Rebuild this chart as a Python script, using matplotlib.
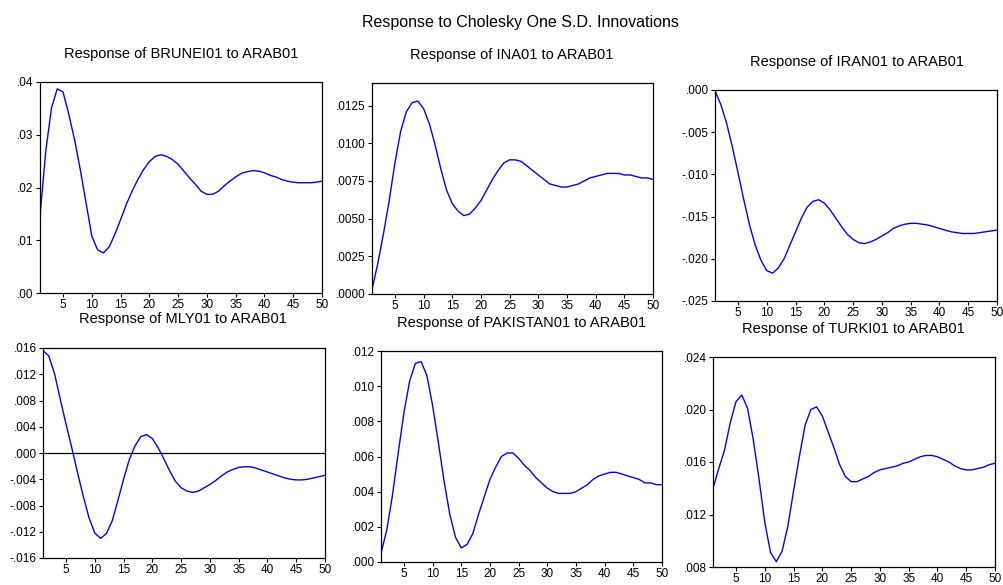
import matplotlib
matplotlib.use("Agg")
import matplotlib.pyplot as plt
from matplotlib.ticker import FuncFormatter, MultipleLocator

plt.rcParams['font.family'] = ['Liberation Sans', 'DejaVu Sans']

periods = list(range(1, 51))

brunei = [.0146, .0269, .0351, .0387, .0381, .0339, .0291, .0234, .0171, .0108,
          .0082, .0076, .0087, .0111, .0139, .0168, .0193, .0215, .0234, .0249,
          .0259, .0262, .0259, .0253, .0244, .0231, .0218, .0206, .0193, .0187,
          .0187, .0193, .0203, .0212, .0220, .0227, .0230, .0232, .0231, .0228,
          .0223, .0220, .0215, .0212, .0210, .0209, .0209, .0209, .0210, .0212]

ina = [.0003, .0020, .0040, .0062, .0087, .0108, .0121, .0127, .0128, .0123,
       .0113, .0099, .0083, .0069, .0060, .0055, .0052, .0053, .0057, .0062,
       .0069, .0076, .0082, .0087, .0089, .0089, .0088, .0085, .0082, .0079,
       .0076, .0073, .0072, .0071, .0071, .0072, .0073, .0075, .0077, .0078,
       .0079, .0080, .0080, .0080, .0079, .0079, .0078, .0077, .0077, .0076]

iran = [-.0001, -.0017, -.0039, -.0067, -.0098, -.0130, -.0160, -.0184, -.0202, -.0214,
        -.0217, -.0211, -.0200, -.0184, -.0168, -.0152, -.0139, -.0132, -.0130, -.0134,
        -.0142, -.0152, -.0162, -.0171, -.0177, -.0181, -.0182, -.0180, -.0177, -.0173,
        -.0169, -.0164, -.0161, -.0159, -.0158, -.0158, -.0159, -.0160, -.0162, -.0164,
        -.0166, -.0168, -.0169, -.0170, -.0170, -.0170, -.0169, -.0168, -.0167, -.0166]

mly = [.0156, .0148, .0121, .0082, .0044, .0008, -.0030, -.0066, -.0099, -.0122,
       -.0130, -.0123, -.0104, -.0073, -.0040, -.0010, .0011, .0025, .0028, .0022,
       .0008, -.0009, -.0027, -.0043, -.0053, -.0058, -.0060, -.0058, -.0053, -.0048,
       -.0042, -.0035, -.0029, -.0025, -.0022, -.0021, -.0021, -.0023, -.0026, -.0029,
       -.0032, -.0035, -.0038, -.0040, -.0041, -.0041, -.0040, -.0038, -.0036, -.0034]

pakistan = [.0005, .0018, .0038, .0062, .0085, .0103, .0113, .0114, .0106, .0089,
            .0068, .0046, .0027, .0014, .0008, .0010, .0016, .0027, .0037, .0047,
            .0054, .0060, .0062, .0062, .0059, .0055, .0052, .0048, .0045, .0042,
            .0040, .0039, .0039, .0039, .0040, .0042, .0044, .0047, .0049, .0050,
            .0051, .0051, .0050, .0049, .0048, .0047, .0045, .0045, .0044, .0044]

turki = [.0140, .0155, .0169, .0190, .0206, .0211, .0201, .0177, .0147, .0114,
         .0091, .0084, .0092, .0111, .0138, .0164, .0188, .0200, .0202, .0195,
         .0183, .0171, .0158, .0149, .0145, .0145, .0147, .0149, .0152, .0154,
         .0155, .0156, .0157, .0159, .0160, .0162, .0164, .0165, .0165, .0164,
         .0162, .0160, .0157, .0155, .0154, .0154, .0155, .0156, .0158, .0159]

titles = ['Response of BRUNEI01 to ARAB01', 'Response of INA01 to ARAB01',
          'Response of IRAN01 to ARAB01', 'Response of MLY01 to ARAB01',
          'Response of PAKISTAN01 to ARAB01', 'Response of TURKI01 to ARAB01']
series = [brunei, ina, iran, mly, pakistan, turki]
ylims = [(0, .04), (0, .014), (-.025, 0), (-.016, .016), (0, .012), (.008, .024)]
ysteps = [.01, .0025, .005, .004, .002, .004]
ydigits = [2, 4, 3, 3, 3, 3]

W, H = 1004, 585
# panel boxes in pixels: left, right, top, bottom
boxes = [(40, 322, 82, 293), (372, 653, 83, 294), (715, 997, 90, 301),
         (43, 325, 348, 558), (381, 662, 351, 562), (713, 995, 357, 567)]
title_pos = [(181, 54), (512, 55), (857, 62), (183, 319), (522, 323), (853, 329)]

fig = plt.figure(figsize=(W / 100, H / 100), dpi=100)
fig.text(520 / W, 1 - 22 / H, 'Response to Cholesky One S.D. Innovations',
         ha='center', va='center', fontsize=11.5)


def make_fmt(nd):
    def f(v, pos):
        s = f"{v:.{nd}f}"
        if abs(v) < 10 ** (-nd - 2):
            s = f"{0:.{nd}f}"
        return s.replace('0.', '.', 1)
    return FuncFormatter(f)


for i in range(6):
    l, r, t, b = boxes[i]
    ax = fig.add_axes([l / W, 1 - b / H, (r - l) / W, (b - t) / H])
    ax.plot(periods, series[i], color='#0000ff', lw=1)
    if ylims[i][0] < 0 < ylims[i][1]:
        ax.axhline(0, color='black', lw=0.9)
    ax.set_xlim(1, 50)
    ax.set_ylim(*ylims[i])
    ax.xaxis.set_major_locator(MultipleLocator(5))
    ax.yaxis.set_major_locator(MultipleLocator(ysteps[i]))
    ax.yaxis.set_major_formatter(make_fmt(ydigits[i]))
    ax.tick_params(labelsize=8.5, length=3, width=0.8, pad=1.5, direction='out')
    for s in ax.spines.values():
        s.set_linewidth(0.9)
    tx, ty = title_pos[i]
    fig.text(tx / W, 1 - ty / H, titles[i], ha='center', va='center', fontsize=10.5)

fig.savefig('out.png', dpi=100)
